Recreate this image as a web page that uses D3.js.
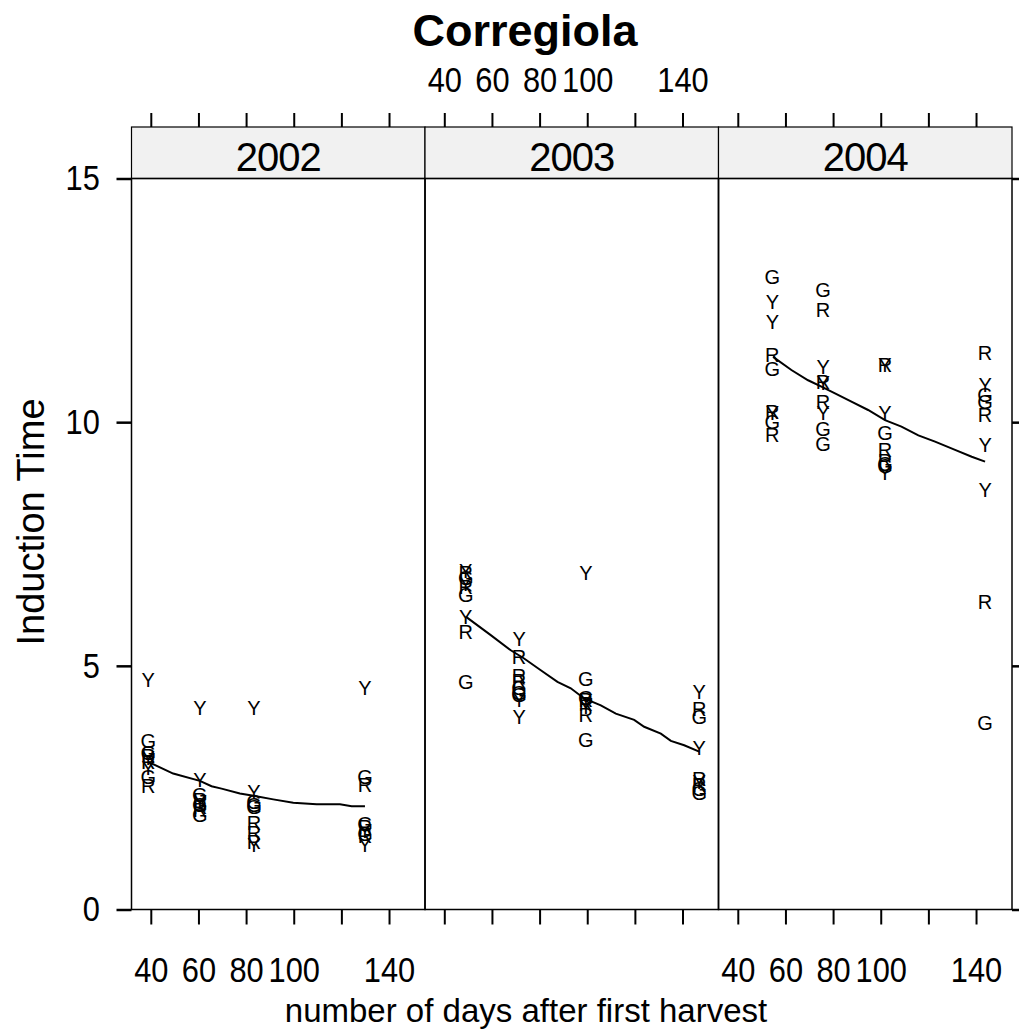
<!DOCTYPE html>
<html><head><meta charset="utf-8">
<script src="https://cdn.jsdelivr.net/npm/d3@7"></script>
<style>
html,body{margin:0;padding:0;background:#fff;}
svg{display:block;font-family:"Liberation Sans",Arial,sans-serif;}
</style></head>
<body>
<svg id="chart" width="1019" height="1034"></svg>
<script>
// ---- data ----
const years = ["2002", "2003", "2004"];
const xTicks = [40, 60, 80, 100, 120, 140];
const xTickLabels = ["40", "60", "80", "100", "", "140"];
const yTicks = [0, 5, 10, 15];

const days2002 = [38.9, 60.6, 83.3, 129.9];
const days2003 = [49.0, 71.4, 99.4, 147.0];
const days2004 = [54.5, 75.8, 101.8, 143.8];

const letters2002 = [
  ["Y","G","G","R","Y","R","Y","G","R"],
  ["Y","Y","G","R","Y","G","R","R","G"],
  ["Y","Y","G","G","G","R","R","R","Y"],
  ["Y","G","R","G","R","Y","G","R","Y"]
];
const values2002 = [
  [4.71, 3.46, 3.22, 3.15, 3.10, 3.02, 2.90, 2.72, 2.53],
  [4.13, 2.66, 2.35, 2.25, 2.20, 2.15, 2.10, 2.05, 1.94],
  [4.13, 2.42, 2.20, 2.15, 2.10, 1.77, 1.56, 1.39, 1.32],
  [4.54, 2.72, 2.55, 1.75, 1.70, 1.62, 1.55, 1.50, 1.32]
];
const letters2003 = [
  ["Y","R","G","Y","R","G","Y","R","G"],
  ["Y","R","R","R","G","G","G","Y","Y"],
  ["Y","G","G","R","Y","R","Y","R","G"],
  ["Y","R","G","Y","R","Y","R","G","G"]
];
const values2003 = [
  [6.95, 6.90, 6.80, 6.68, 6.62, 6.45, 6.01, 5.70, 4.67],
  [5.56, 5.19, 4.80, 4.68, 4.55, 4.45, 4.40, 4.30, 3.95],
  [6.90, 4.74, 4.35, 4.30, 4.28, 4.22, 4.15, 3.99, 3.48],
  [4.47, 4.11, 3.95, 3.31, 2.68, 2.62, 2.55, 2.48, 2.40]
];
const letters2004 = [
  ["G","Y","Y","R","G","R","Y","G","R"],
  ["G","R","Y","R","Y","R","Y","G","G"],
  ["Y","R","Y","G","R","R","G","G","Y"],
  ["R","Y","G","G","R","Y","Y","R","G"]
];
const values2004 = [
  [12.98, 12.47, 12.06, 11.38, 11.10, 10.20, 10.18, 10.01, 9.74],
  [12.71, 12.30, 11.14, 10.83, 10.80, 10.42, 10.18, 9.87, 9.56],
  [11.17, 11.17, 10.18, 9.77, 9.43, 9.20, 9.15, 9.10, 8.95],
  [11.41, 10.76, 10.55, 10.42, 10.15, 9.53, 8.61, 6.31, 3.82]
];

const smooth2002 = [[38.9,3.03],[49.4,2.79],[60.6,2.64],[65.5,2.53],[69.7,2.48],[77.4,2.38],[83.7,2.33],[91.4,2.26],[99.8,2.19],[109.6,2.16],[119.4,2.16],[124.3,2.12],[129.9,2.12]];
const smooth2003 = [[49.0,6.01],[59.5,5.63],[67.9,5.32],[73.5,5.15],[80.5,4.91],[87.5,4.67],[93.1,4.54],[98.7,4.33],[105.7,4.19],[112.0,4.02],[119.7,3.89],[123.9,3.75],[130.9,3.61],[135.1,3.46],[140.7,3.37],[147.0,3.24]];
const smooth2004 = [[54.8,11.34],[62.5,11.07],[69.5,10.86],[75.1,10.73],[80.8,10.59],[87.7,10.42],[94.7,10.25],[101.8,10.04],[108.7,9.91],[115.8,9.73],[122.8,9.60],[131.2,9.43],[138.2,9.29],[143.8,9.19]];

const panelDays = [days2002, days2003, days2004];
const panelLetters = [letters2002, letters2003, letters2004];
const panelValues = [values2002, values2003, values2004];
const panelSmooth = [smooth2002, smooth2003, smooth2004];

// ---- layout ----
const pLeft = 131.5, pRight = 1012, pTop = 178.5, pBottom = 909.5;
const stripTop = 127;
const panelW = (pRight - pLeft) / 3;
const tickFont = 35, squeeze = 0.88;
const svg = d3.select("#chart");

const y = d3.scaleLinear().domain([0, 15]).range([pBottom, pTop]);

svg.append("text").attr("x", 525).attr("y", 46)
  .attr("text-anchor", "middle").attr("font-size", 45).attr("font-weight", "bold")
  .text("Corregiola");

years.forEach((yr, i) => {
  const x0 = pLeft + i * panelW;
  const x = d3.scaleLinear().domain([31.9, 155.1]).range([x0, x0 + panelW]);
  const g = svg.append("g");

  // strip
  g.append("rect").attr("x", x0).attr("y", stripTop).attr("width", panelW).attr("height", pTop - stripTop)
    .attr("fill", "#f1f1f1").attr("stroke", "#000").attr("stroke-width", 1.2);
  g.append("text").attr("x", x0 + panelW / 2).attr("y", pTop - 8)
    .attr("text-anchor", "middle").attr("font-size", 40).attr("letter-spacing", -1)
    .text(yr);

  // panel box
  g.append("rect").attr("x", x0).attr("y", pTop).attr("width", panelW).attr("height", pBottom - pTop)
    .attr("fill", "none").attr("stroke", "#000").attr("stroke-width", 1.5);

  // bottom axis
  const bAx = d3.axisBottom(x).tickValues(xTicks).tickSize(15).tickPadding(33)
    .tickFormat((d, k) => (i !== 1 ? xTickLabels[k] : ""));
  const bg = svg.append("g").attr("transform", `translate(0,${pBottom})`).call(bAx);
  // top axis
  const tAx = d3.axisTop(x).tickValues(xTicks).tickSize(14).tickPadding(21)
    .tickFormat((d, k) => (i === 1 ? xTickLabels[k] : ""));
  const tg = svg.append("g").attr("transform", `translate(0,${stripTop})`).call(tAx);
  [bg, tg].forEach(a => {
    a.select(".domain").remove();
    a.selectAll("line").attr("stroke", "#000").attr("stroke-width", 2);
    a.selectAll("text").attr("font-size", tickFont).attr("transform", `scale(${squeeze},1)`)
      .attr("font-family", "Liberation Sans, Arial, sans-serif").attr("fill", "#000");
  });

  // points as letters
  panelDays[i].forEach((d, gi) => {
    panelLetters[i][gi].forEach((L, k) => {
      g.append("text").attr("x", x(d)).attr("y", y(panelValues[i][gi][k]))
        .attr("text-anchor", "middle").attr("dominant-baseline", "central")
        .attr("font-size", 20).text(L);
    });
  });

  // smoother
  const line = d3.line().x(p => x(p[0])).y(p => y(p[1])).curve(d3.curveLinear);
  g.append("path").datum(panelSmooth[i]).attr("d", line)
    .attr("fill", "none").attr("stroke", "#000").attr("stroke-width", 2);
});

// y axes
const lAx = d3.axisLeft(y).tickValues(yTicks).tickSize(15).tickPadding(21);
const lg = svg.append("g").attr("transform", `translate(${pLeft},0)`).call(lAx);
const rAx = d3.axisRight(y).tickValues(yTicks).tickSize(15).tickFormat("");
const rg = svg.append("g").attr("transform", `translate(${pRight},0)`).call(rAx);
[lg, rg].forEach(a => {
  a.select(".domain").remove();
  a.selectAll("line").attr("stroke", "#000").attr("stroke-width", 2.5);
  a.selectAll("text").attr("font-size", tickFont).attr("transform", `scale(${squeeze},1)`)
    .attr("font-family", "Liberation Sans, Arial, sans-serif").attr("fill", "#000");
});

svg.append("text").attr("x", 526).attr("y", 1022)
  .attr("text-anchor", "middle").attr("font-size", 33).text("number of days after first harvest");
svg.append("text").attr("transform", "translate(44,522) rotate(-90)")
  .attr("text-anchor", "middle").attr("font-size", 38).text("Induction Time");
</script>
</body></html>
